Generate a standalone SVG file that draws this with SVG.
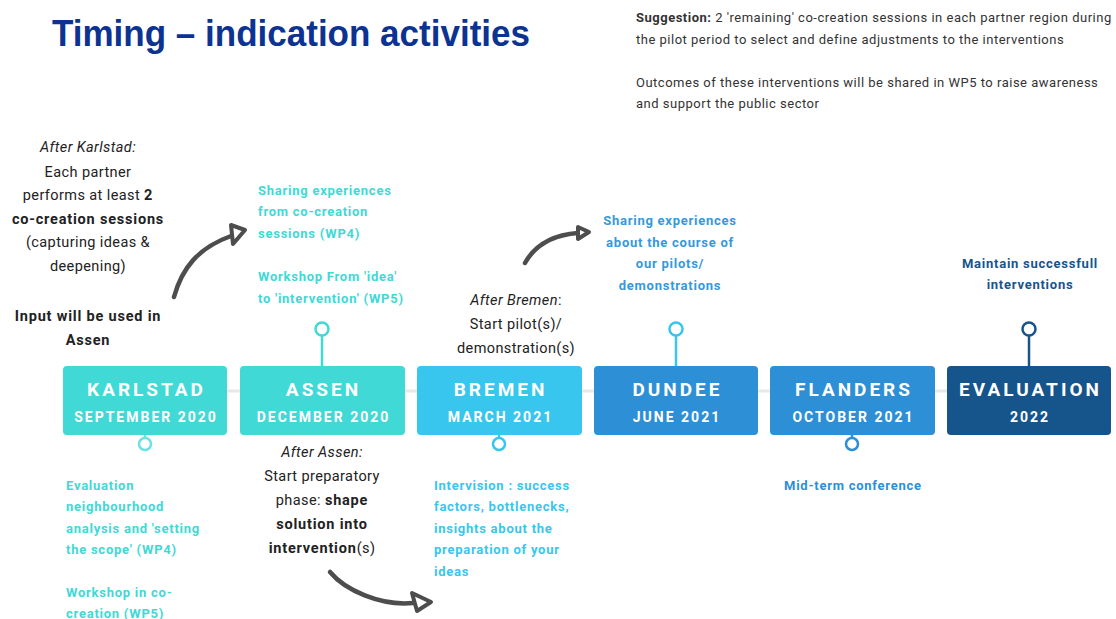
<svg xmlns="http://www.w3.org/2000/svg" width="1116" height="619" viewBox="0 0 1116 619">
  <style>
    .title { font-family: "Liberation Sans", Arial, sans-serif; font-weight: bold; font-size: 37px; fill: #0c3391; }
    .note { font-family: Roboto, "Liberation Sans", sans-serif; font-size: 13px; letter-spacing: 0.5px; fill: #333; }
    .body { font-family: Roboto, "Liberation Sans", sans-serif; font-size: 14.5px; letter-spacing: 0.4px; fill: #222; }
    .body.b, .body .b { letter-spacing: 0.8px; }
    .lbl { font-family: Roboto, "Liberation Sans", sans-serif; font-size: 13px; font-weight: bold; letter-spacing: 0.75px; }
    .b { font-weight: bold; }
    .i { font-style: italic; }
    .box-name { font-family: Roboto, "Liberation Sans", sans-serif; font-weight: bold; font-size: 19px; letter-spacing: 3px; fill: #fff; }
    .box-date { font-family: Roboto, "Liberation Sans", sans-serif; font-weight: bold; font-size: 14px; letter-spacing: 2px; fill: #fff; }
    .c-turq { fill: #40d9d5; }
    .c-sky { fill: #38c6ee; }
    .c-blue { fill: #2d8fd5; }
    .c-navy { fill: #16548c; }
    .arrow { fill: none; stroke: #4d4d4d; stroke-width: 4.5; stroke-linecap: round; stroke-linejoin: round; }
    .head { fill: #fff; stroke: #4d4d4d; stroke-width: 4; stroke-linejoin: round; }
    .pin { fill: #fff; stroke-width: 2.5; }
  </style>

  <!-- Heading -->
  <text class="title" x="52" y="46" textLength="478" lengthAdjust="spacingAndGlyphs">Timing – indication activities</text>

  <!-- Note at top right -->
  <g id="note">
    <text class="note" x="636" y="22"><tspan class="b">Suggestion:</tspan> 2 'remaining' co-creation sessions in each partner region during</text>
    <text class="note" x="636" y="44">the pilot period to select and define adjustments to the interventions</text>
    <text class="note" x="636" y="87">Outcomes of these interventions will be shared in WP5 to raise awareness</text>
    <text class="note" x="636" y="108">and support the public sector</text>
  </g>

  <!-- Timeline base line -->
  <line x1="63" y1="391" x2="1111" y2="391" stroke="#e8e8e8" stroke-width="3"/>

  <!-- Connectors: pins and curved arrows -->
  <g id="connectors">
    <line x1="322" y1="336" x2="322" y2="366" stroke="#40d9d5" stroke-width="2.5"/>
    <circle class="pin" cx="322" cy="329" r="6.5" stroke="#40d9d5"/>
    <line x1="676" y1="336" x2="676" y2="366" stroke="#38c6ee" stroke-width="2.5"/>
    <circle class="pin" cx="676" cy="329" r="6.5" stroke="#38c6ee"/>
    <line x1="1029" y1="336" x2="1029" y2="366" stroke="#16548c" stroke-width="2.5"/>
    <circle class="pin" cx="1029" cy="329" r="6.5" stroke="#16548c"/>

    <line x1="145" y1="435" x2="145" y2="438" stroke="#6fe2df" stroke-width="2.5"/>
    <circle class="pin" cx="145" cy="444" r="6" stroke="#6fe2df"/>
    <line x1="499" y1="435" x2="499" y2="438" stroke="#38c6ee" stroke-width="2.5"/>
    <circle class="pin" cx="499" cy="444" r="6" stroke="#38c6ee"/>
    <line x1="852" y1="435" x2="852" y2="438" stroke="#2d8fd5" stroke-width="2.5"/>
    <circle class="pin" cx="852" cy="444" r="6" stroke="#2d8fd5"/>

    <path class="arrow" d="M174,297 C182,268 198,248 231,236"/>
    <polygon class="head" points="231,225 245,230 233,244"/>
    <path class="arrow" d="M525,263 C535,245 552,235 578,233" stroke-width="4"/>
    <polygon class="head" points="578,227 589,232 578,239"/>
    <path class="arrow" d="M330,572 C345,590 380,606 413,603"/>
    <polygon class="head" points="412,593 431,602 417,611"/>
  </g>

  <!-- Timeline stations -->
  <g id="karlstad">
    <rect x="63" y="366" width="164" height="69" rx="4" class="c-turq"/>
    <text class="box-name" x="146.5" y="396" text-anchor="middle">KARLSTAD</text>
    <text class="box-date" x="146" y="422" text-anchor="middle">SEPTEMBER 2020</text>
  </g>
  <g id="assen">
    <rect x="240" y="366" width="165" height="69" rx="4" class="c-turq"/>
    <text class="box-name" x="323.5" y="396" text-anchor="middle">ASSEN</text>
    <text class="box-date" x="323.5" y="422" text-anchor="middle">DECEMBER 2020</text>
  </g>
  <g id="bremen">
    <rect x="417" y="366" width="165" height="69" rx="4" class="c-sky"/>
    <text class="box-name" x="500.5" y="396" text-anchor="middle">BREMEN</text>
    <text class="box-date" x="500.5" y="422" text-anchor="middle">MARCH 2021</text>
  </g>
  <g id="dundee">
    <rect x="594" y="366" width="164" height="69" rx="4" class="c-blue"/>
    <text class="box-name" x="677.5" y="396" text-anchor="middle">DUNDEE</text>
    <text class="box-date" x="677" y="422" text-anchor="middle">JUNE 2021</text>
  </g>
  <g id="flanders">
    <rect x="770" y="366" width="165" height="69" rx="4" class="c-blue"/>
    <text class="box-name" x="854" y="396" text-anchor="middle">FLANDERS</text>
    <text class="box-date" x="853.5" y="422" text-anchor="middle">OCTOBER 2021</text>
  </g>
  <g id="evaluation">
    <rect x="947" y="366" width="164" height="69" rx="4" class="c-navy"/>
    <text class="box-name" x="1030.5" y="396" text-anchor="middle">EVALUATION</text>
    <text class="box-date" x="1030" y="422" text-anchor="middle">2022</text>
  </g>

  <!-- After Karlstad -->
  <g id="after-karlstad" text-anchor="middle">
    <text x="88" y="152" class="body i">After Karlstad:</text>
    <text x="88" y="177" class="body">Each partner</text>
    <text x="88" y="200" class="body">performs at least <tspan class="b">2</tspan></text>
    <text x="88" y="224" class="body b">co-creation sessions</text>
    <text x="88" y="247" class="body">(capturing ideas &amp;</text>
    <text x="88" y="271" class="body">deepening)</text>
    <text x="88" y="321" class="body b">Input will be used in</text>
    <text x="88" y="345" class="body b">Assen</text>
  </g>

  <!-- Assen activities -->
  <g id="assen-activities" class="lbl c-turq">
    <text x="258" y="195">Sharing experiences</text>
    <text x="258" y="216">from co-creation</text>
    <text x="258" y="238">sessions (WP4)</text>
    <text x="258" y="281">Workshop From 'idea'</text>
    <text x="258" y="303">to 'intervention' (WP5)</text>
  </g>

  <!-- After Bremen -->
  <g id="after-bremen" text-anchor="middle">
    <text x="516" y="305" class="body"><tspan class="i">After Bremen</tspan>:</text>
    <text x="516" y="329" class="body">Start pilot(s)/</text>
    <text x="516" y="353" class="body">demonstration(s)</text>
  </g>

  <!-- Dundee activities -->
  <g id="dundee-activities" class="lbl" text-anchor="middle" fill="#3598dc">
    <text x="670" y="225">Sharing experiences</text>
    <text x="670" y="247">about the course of</text>
    <text x="670" y="268">our pilots/</text>
    <text x="670" y="290">demonstrations</text>
  </g>

  <!-- Evaluation activities -->
  <g id="evaluation-activities" class="lbl c-navy" text-anchor="middle">
    <text x="1030" y="268">Maintain successfull</text>
    <text x="1030" y="289">interventions</text>
  </g>

  <!-- Karlstad activities -->
  <g id="karlstad-activities" class="lbl c-turq">
    <text x="66" y="490">Evaluation</text>
    <text x="66" y="511">neighbourhood</text>
    <text x="66" y="533">analysis and 'setting</text>
    <text x="66" y="554">the scope' (WP4)</text>
    <text x="66" y="597">Workshop in co-</text>
    <text x="66" y="618">creation (WP5)</text>
  </g>

  <!-- After Assen -->
  <g id="after-assen" text-anchor="middle">
    <text x="322" y="457" class="body i">After Assen:</text>
    <text x="322" y="481" class="body">Start preparatory</text>
    <text x="322" y="505" class="body">phase: <tspan class="b">shape</tspan></text>
    <text x="322" y="529" class="body b">solution into</text>
    <text x="322" y="553" class="body"><tspan class="b">intervention</tspan>(s)</text>
  </g>

  <!-- Bremen activities -->
  <g id="bremen-activities" class="lbl c-sky">
    <text x="434" y="490">Intervision : success</text>
    <text x="434" y="511">factors, bottlenecks,</text>
    <text x="434" y="533">insights about the</text>
    <text x="434" y="554">preparation of your</text>
    <text x="434" y="576">ideas</text>
  </g>

  <!-- Flanders activities -->
  <g id="flanders-activities" class="lbl c-blue">
    <text x="784" y="490">Mid-term conference</text>
  </g>
</svg>
